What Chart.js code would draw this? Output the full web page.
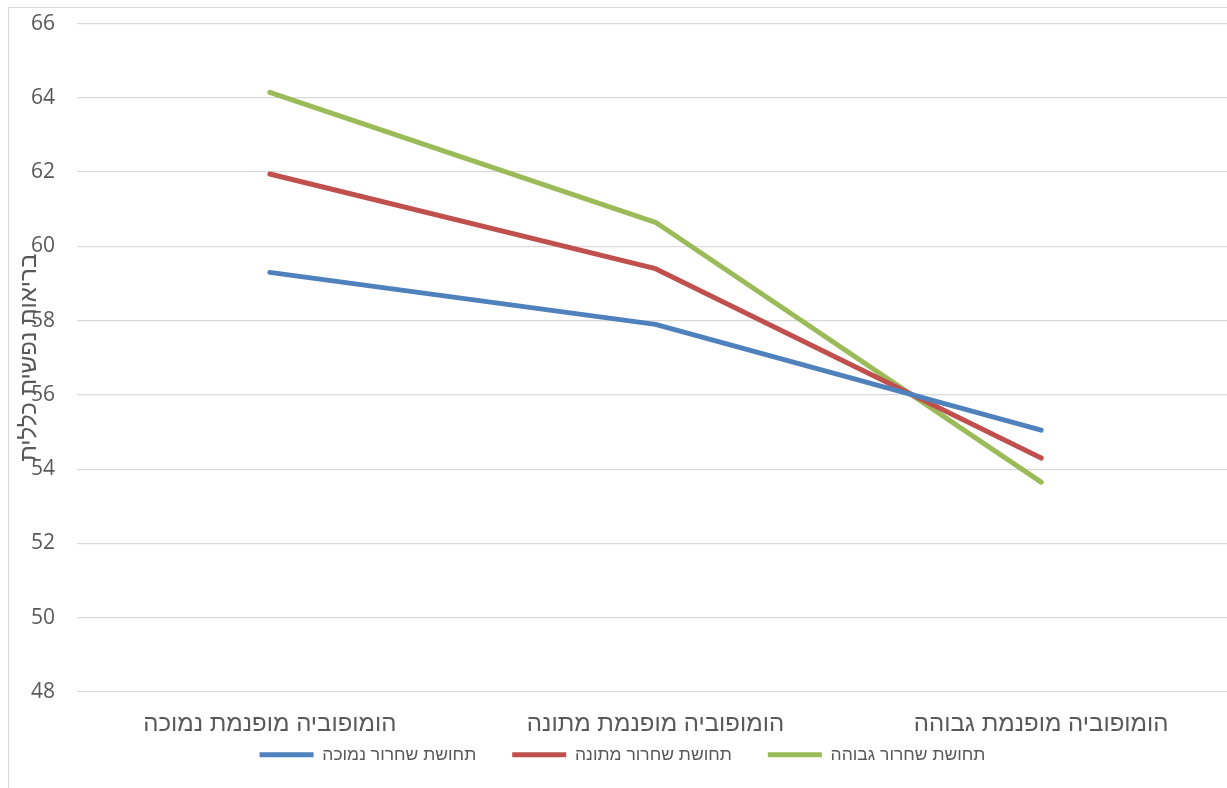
<!DOCTYPE html>
<html>
<head>
<meta charset="utf-8">
<script src="https://cdn.jsdelivr.net/npm/chart.js@4/dist/chart.umd.min.js"></script>
<style>
  html, body { margin: 0; padding: 0; background: #fff; overflow: hidden; }
  #frame { position: absolute; left: 8px; top: 7px; width: 1400px; height: 900px;
           border-left: 1px solid #d9d9d9; border-top: 1px solid #d9d9d9; }
  /* canvas starts 11px above the window so the plot top lands at y=22 */
  #wrap { position: absolute; left: 0; top: -11px; width: 1240px; height: 781px; }
</style>
</head>
<body>
<div id="frame"></div>
<div id="wrap"><canvas id="chart_div"></canvas></div>
<script>
// categories (internalised homophobia level)
var categories = ["הומופוביה מופנמת נמוכה", "הומופוביה מופנמת מתונה", "הומופוביה מופנמת גבוהה"];

// series: sense of liberation
var lowRelease = [59.3, 57.9, 55.05];
var midRelease = [61.95, 59.4, 54.3];
var highRelease = [64.15, 60.65, 53.65];

var seriesNames = ["תחושת שחרור נמוכה", "תחושת שחרור מתונה", "תחושת שחרור גבוהה"];
var yTitle = "בריאות נפשית כללית";
var yMin = 48, yMax = 66, yStep = 2;

var hebFont = "'Liberation Sans', 'DejaVu Sans', sans-serif";
var numFont = "'Open Sans', 'Liberation Sans', sans-serif";

function line(label, values, color) {
    return {
        label: label,
        data: values,
        borderColor: color,
        backgroundColor: color,
        borderWidth: 5,
        borderCapStyle: 'round',
        borderJoinStyle: 'round',
        pointRadius: 0,
        pointStyle: 'line',
        tension: 0
    };
}

var ctx = document.getElementById('chart_div');
new Chart(ctx, {
    type: 'line',
    data: {
        labels: categories,
        datasets: [
            line(seriesNames[0], lowRelease, '#4F81BD'),
            line(seriesNames[1], midRelease, '#C0504D'),
            line(seriesNames[2], highRelease, '#9BBB59')
        ]
    },
    options: {
        responsive: true,
        maintainAspectRatio: false,
        animation: false,
        layout: { padding: { top: 0, right: 6, bottom: 0, left: 11 } },
        plugins: {
            tooltip: { enabled: false },
            legend: {
                position: 'bottom',
                maxHeight: 60,
                labels: {
                    usePointStyle: true,
                    pointStyleWidth: 54,
                    padding: 36,
                    color: '#595959',
                    font: { family: hebFont, size: 17.5 }
                }
            }
        },
        scales: {
            x: {
                offset: true,
                grid: { display: false, drawTicks: false },
                border: { display: false },
                ticks: {
                    color: '#595959',
                    mirror: true,      // no clipping to the (thin) axis box
                    padding: -47,
                    maxRotation: 0,
                    font: { family: hebFont, size: 24 }
                },
                afterFit: function (s) { s.height = 18; }
            },
            y: {
                min: yMin,
                max: yMax,
                grid: { color: '#d9d9d9', lineWidth: 1.3, drawTicks: false },
                border: { display: false },
                ticks: {
                    stepSize: yStep,
                    color: '#595959',
                    padding: 22,
                    font: { family: numFont, size: 21 }
                },
                title: {
                    display: true,
                    text: yTitle,
                    color: '#595959',
                    padding: { top: 4, bottom: -30 },
                    font: { family: hebFont, size: 24 }
                },
                afterFit: function (s) { s.width = 66; }
            }
        }
    }
});
</script>
</body>
</html>
